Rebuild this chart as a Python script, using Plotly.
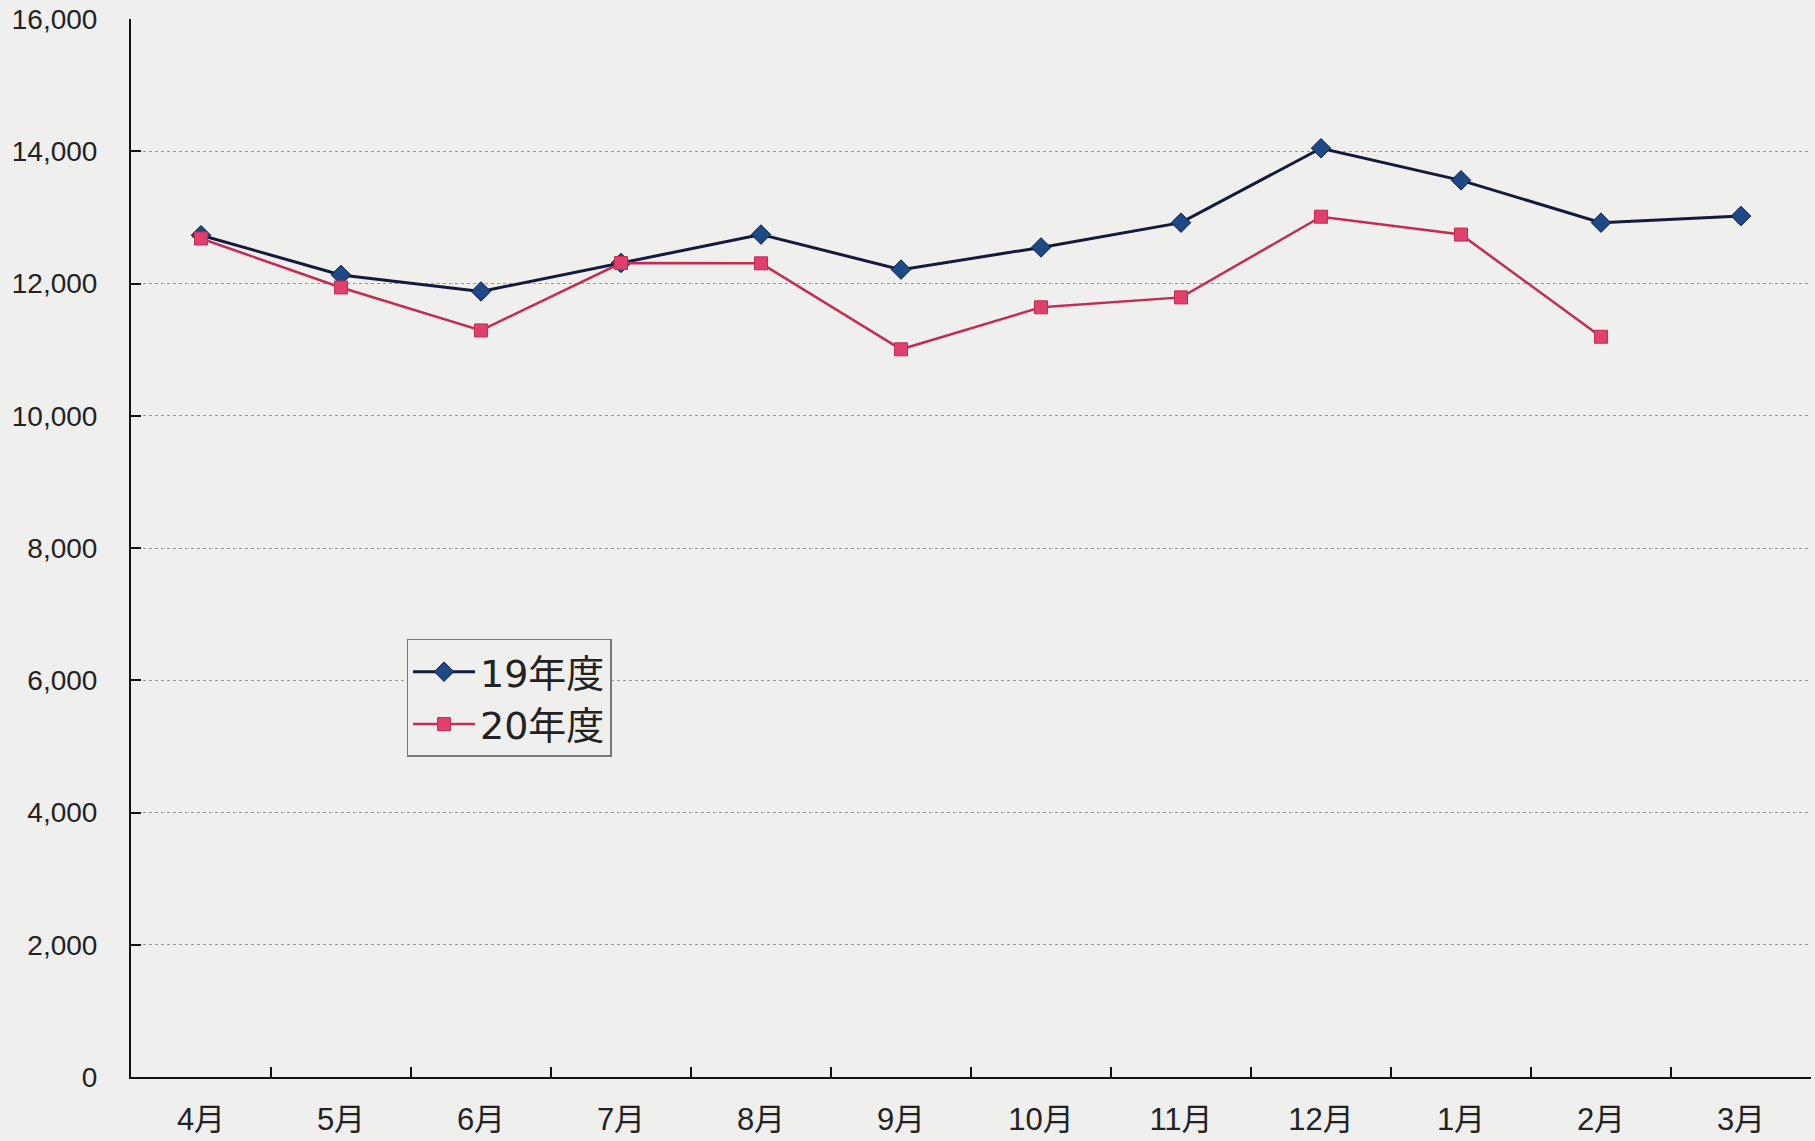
import plotly.graph_objects as go

months = ["4月", "5月", "6月", "7月", "8月", "9月", "10月", "11月", "12月", "1月", "2月", "3月"]
fy19 = [12730, 12130, 11880, 12310, 12740, 12210, 12545, 12920, 14045, 13560, 12920, 13020]
fy20 = [12680, 11940, 11290, 12310, 12305, 11005, 11640, 11790, 13010, 12740, 11195, None]
series_names = ["19年度", "20年度"]

FONT = "Liberation Sans, Arial, Noto Sans CJK JP, sans-serif"
BG = "#efefed"

fig = go.Figure()
fig.add_trace(go.Scatter(
    x=months, y=fy19, name=series_names[0], mode="lines+markers",
    line=dict(color="#151a3c", width=3),
    marker=dict(symbol="diamond", size=15, color="#1d4a86", line=dict(color="#0d1a40", width=1)),
))
fig.add_trace(go.Scatter(
    x=months, y=fy20, name=series_names[1], mode="lines+markers",
    line=dict(color="#c22c55", width=2.5),
    marker=dict(symbol="square", size=13, color="#e0406e", line=dict(color="#c22c55", width=1)),
))

fig.update_layout(
    width=1815, height=1141,
    margin=dict(l=131, r=4, t=18, b=61),
    paper_bgcolor=BG, plot_bgcolor=BG,
    font=dict(family=FONT, size=28, color="#222"),
    showlegend=True,
    legend=dict(
        x=0.164, y=0.414, xanchor="left", yanchor="top",
        bgcolor=BG, bordercolor="#777", borderwidth=1.5,
        font=dict(family="DejaVu Sans, Noto Sans CJK JP, sans-serif", size=38, color="#222"),
        tracegroupgap=0, itemwidth=62,
        entrywidth=175, entrywidthmode="pixels",
    ),
)
fig.update_xaxes(
    type="category", range=[-0.5, 11.5],
    showline=True, linecolor="#111", linewidth=2,
    ticks="inside", ticklen=10, tickcolor="#111", tickwidth=2,
    tickson="boundaries", showgrid=False,
    ticklabelstandoff=14,
    tickfont=dict(size=31, color="#222"),
)
fig.update_yaxes(
    range=[0, 16000], dtick=2000, tickformat=",d",
    showline=True, linecolor="#111", linewidth=2,
    ticks="inside", ticklen=10, tickcolor="#111", tickwidth=2,
    showgrid=True, gridcolor="#999999", griddash="dot", gridwidth=1,
    zeroline=False,
    ticklabelstandoff=26,
    tickfont=dict(size=28, color="#222"),
)

fig.write_html("out.html")
